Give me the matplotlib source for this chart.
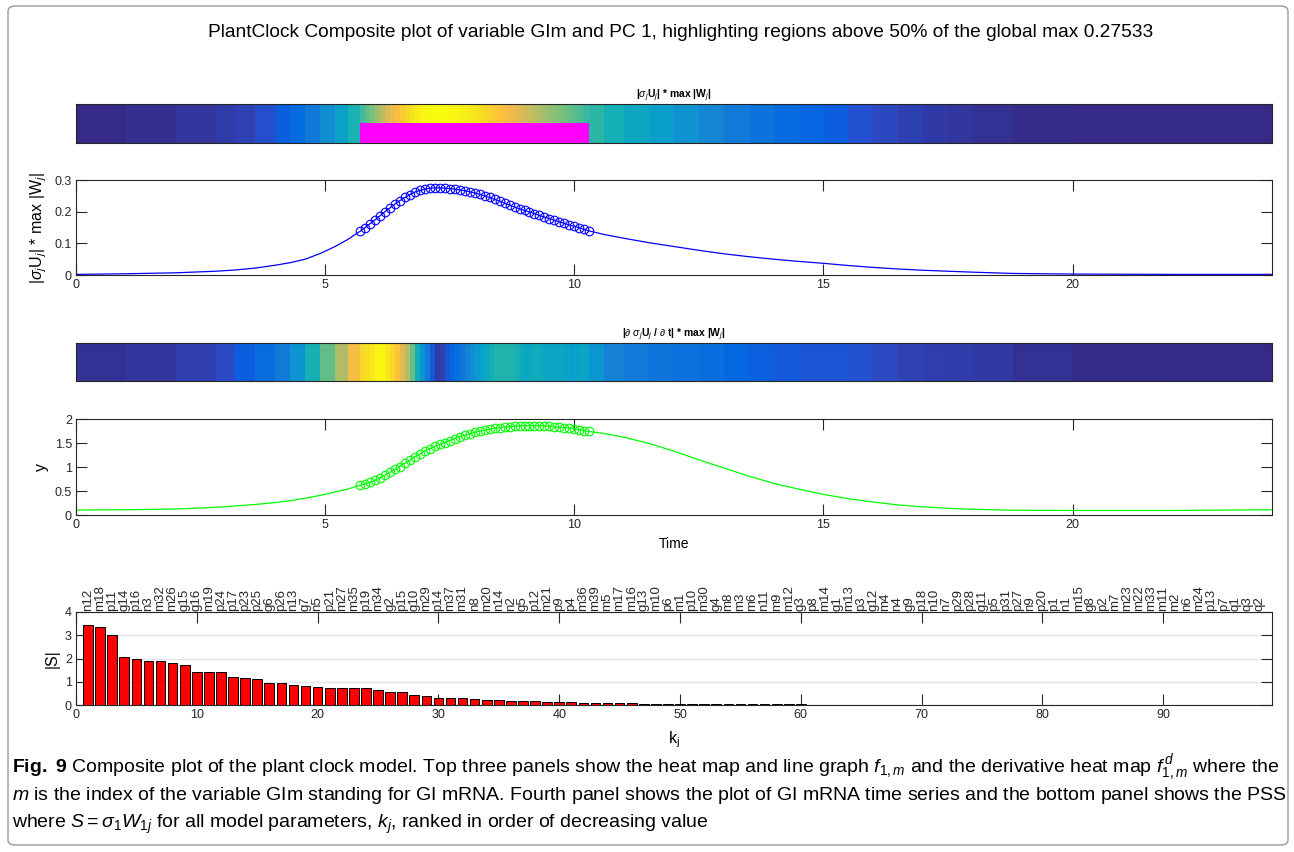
import numpy as np
import matplotlib.pyplot as plt
from matplotlib.colors import LinearSegmentedColormap
from matplotlib.patches import FancyBboxPatch

# ODE sample times (dense where the dynamics are fast)
t = [0, 1, 2, 2.8, 3.2, 3.6, 4.0, 4.3, 4.6, 4.9, 5.2, 5.45,
     5.7, 5.8, 5.9, 6.0, 6.1, 6.2, 6.3, 6.4, 6.5, 6.6, 6.7, 6.8, 6.9,
     7.0, 7.1, 7.2, 7.3, 7.4, 7.5, 7.6, 7.7, 7.8, 7.9, 8.0, 8.1, 8.2,
     8.3, 8.4, 8.5, 8.6, 8.7, 8.8, 8.9, 9.0, 9.1, 9.2, 9.3, 9.4, 9.5,
     9.6, 9.7, 9.8, 9.9, 10.0, 10.1, 10.2, 10.3,
     10.6, 11.0, 11.5, 12.0, 12.5, 13.0, 13.5, 14.0, 14.5, 15.0, 15.5,
     16.0, 16.5, 17.0, 17.5, 18.0, 18.8, 20.0, 22.0, 24.0]

# |sigma_j U_j| * max|W_j|  for GIm
f1m = [0.002, 0.004, 0.007, 0.012, 0.016, 0.022, 0.031, 0.039, 0.050, 0.068, 0.090, 0.112,
       0.138, 0.150, 0.162, 0.174, 0.187, 0.200, 0.212, 0.224, 0.235, 0.245, 0.254, 0.262, 0.267,
       0.271, 0.274, 0.27533, 0.2750, 0.2742, 0.273, 0.271, 0.2688, 0.2662, 0.263, 0.259, 0.255, 0.250,
       0.245, 0.239, 0.233, 0.227, 0.221, 0.215, 0.209, 0.204, 0.199, 0.194, 0.188, 0.183, 0.178,
       0.173, 0.168, 0.163, 0.158, 0.154, 0.149, 0.144, 0.139,
       0.128, 0.116, 0.102, 0.090, 0.078, 0.067, 0.058, 0.050, 0.043, 0.037, 0.030,
       0.024, 0.019, 0.015, 0.012, 0.009, 0.005, 0.003, 0.002, 0.002]

# GI mRNA time series
gim = [0.105, 0.11, 0.125, 0.16, 0.19, 0.22, 0.26, 0.30, 0.35, 0.41, 0.48, 0.54,
       0.62, 0.65, 0.68, 0.72, 0.77, 0.83, 0.89, 0.95, 1.01, 1.08, 1.14, 1.21, 1.27,
       1.33, 1.38, 1.43, 1.47, 1.51, 1.55, 1.59, 1.63, 1.66, 1.69, 1.72, 1.75, 1.77,
       1.79, 1.81, 1.82, 1.83, 1.84, 1.85, 1.855, 1.86, 1.86, 1.86, 1.86, 1.855, 1.85,
       1.84, 1.83, 1.82, 1.81, 1.80, 1.78, 1.76, 1.74,
       1.70, 1.62, 1.49, 1.33, 1.15, 0.98, 0.81, 0.66, 0.54, 0.43, 0.34,
       0.27, 0.21, 0.17, 0.14, 0.12, 0.10, 0.095, 0.095, 0.11]

# parameter sensitivities, ranked
params = ['n12', 'm18', 'p11', 'g14', 'p16', 'n3', 'm32', 'm26', 'g15', 'g16',
          'm19', 'p24', 'p17', 'p23', 'p25', 'g6', 'p26', 'n13', 'g7', 'n5',
          'p21', 'm27', 'm35', 'p19', 'm34', 'g2', 'p15', 'g10', 'm29', 'p14',
          'm37', 'm31', 'n8', 'm20', 'n14', 'n2', 'g5', 'p12', 'm21', 'p9',
          'p4', 'm36', 'm39', 'm5', 'm17', 'm16', 'g13', 'm10', 'p6', 'm1',
          'p10', 'm30', 'g4', 'm8', 'm3', 'm6', 'n11', 'm9', 'm12', 'g3',
          'p8', 'm14', 'g1', 'm13', 'p3', 'g12', 'm4', 'n4', 'g9', 'p18',
          'n10', 'n7', 'p29', 'p28', 'g11', 'p5', 'p31', 'p27', 'n9', 'p20',
          'p1', 'n1', 'm15', 'g8', 'p2', 'm7', 'm23', 'm22', 'm33', 'm11',
          'm2', 'n6', 'm24', 'p13', 'p7', 'q1', 'q3', 'q2']
pss = [3.46, 3.34, 2.99, 2.06, 2.00, 1.91, 1.88, 1.81, 1.72, 1.41,
       1.40, 1.40, 1.22, 1.16, 1.13, 0.96, 0.94, 0.88, 0.81, 0.77,
       0.75, 0.74, 0.74, 0.73, 0.63, 0.56, 0.56, 0.41, 0.38, 0.32,
       0.31, 0.30, 0.24, 0.21, 0.20, 0.19, 0.18, 0.16, 0.15, 0.13,
       0.11, 0.10, 0.09, 0.085, 0.075, 0.07, 0.065, 0.06, 0.058, 0.055,
       0.05, 0.046, 0.042, 0.04, 0.037, 0.034, 0.031, 0.029, 0.027, 0.025,
       0.022, 0.02, 0.018, 0.017, 0.016, 0.015, 0.014, 0.013, 0.012, 0.011,
       0.010, 0.009, 0.009, 0.008, 0.007, 0.007, 0.006, 0.006, 0.005, 0.005,
       0.004, 0.004, 0.003, 0.003, 0.003, 0.002, 0.002, 0.002, 0.002, 0.001,
       0.001, 0.001, 0.001, 0.001, 0.0005, 0.0005, 0.0003, 0.0002]

t = np.array(t)
f1m = np.array(f1m)
gim = np.array(gim)
hi = f1m >= 0.5 * f1m.max()
df1m = np.abs(np.gradient(f1m, t))

# parula-like colormap
parula = LinearSegmentedColormap.from_list('parula', [
    (0.000, (0.2081, 0.1663, 0.5292)), (0.079, (0.1707, 0.2919, 0.7792)),
    (0.111, (0.0591, 0.3598, 0.8683)), (0.143, (0.0060, 0.4086, 0.8828)),
    (0.238, (0.0779, 0.5040, 0.8384)), (0.286, (0.0641, 0.5570, 0.8240)),
    (0.333, (0.0265, 0.6137, 0.8135)), (0.429, (0.0590, 0.6838, 0.7254)),
    (0.508, (0.2178, 0.7250, 0.6193)), (0.587, (0.4420, 0.7481, 0.5033)),
    (0.667, (0.6473, 0.7456, 0.4188)), (0.762, (0.8824, 0.7274, 0.3217)),
    (0.841, (0.9938, 0.7455, 0.2403)), (0.921, (0.9626, 0.8705, 0.1309)),
    (1.000, (0.9763, 0.9831, 0.0538))])

plt.rcParams['font.family'] = ['Liberation Sans', 'DejaVu Sans']
plt.rcParams['mathtext.fontset'] = 'custom'
plt.rcParams['mathtext.rm'] = 'Liberation Sans'
plt.rcParams['mathtext.it'] = 'Liberation Sans:italic'
plt.rcParams['mathtext.bf'] = 'Liberation Sans:bold'

fig = plt.figure(figsize=(12.94, 8.52), dpi=100)
fig.patches.append(FancyBboxPatch((8 / 1294, 7 / 852), 1280 / 1294, 839 / 852,
                                  boxstyle='round,pad=0,rounding_size=0.006',
                                  transform=fig.transFigure, fill=False,
                                  ec='#9a9a9a', lw=1))

L, W = 76 / 1294, 1196 / 1294
dark = '#262626'

fig.text(0.526, 0.9624, 'PlantClock Composite plot of variable GIm and PC 1, '
         'highlighting regions above 50% of the global max 0.27533',
         ha='center', va='center', fontsize=13.8)


def heat(rect, vals, label, ul):
    ax = fig.add_axes(rect)
    ax.pcolormesh(t, [0, 1], ((vals[:-1] + vals[1:]) / 2)[None, :],
                  cmap=parula, vmin=vals.min(), vmax=vals.max(), shading='flat')
    ax.set_xlim(0, 24)
    ax.set_ylim(0, 1)
    ax.set_xticks([])
    ax.set_yticks([])
    for s in ax.spines.values():
        s.set_color(dark)
    ax.set_title(label, fontsize=7.5, fontweight='bold', pad=2)
    ax.plot(ul, [1, 1], transform=ax.transAxes, color='white', lw=1.5, clip_on=False)
    return ax


def style(ax):
    ax.tick_params(direction='in', length=8, top=True, right=True,
                   labelsize=9, color=dark, labelcolor=dark, pad=3)
    for s in ax.spines.values():
        s.set_color(dark)


# heat map of f_{1,m}
ax1 = heat([L, 0.8322, W, 0.0458], f1m,
           r'|$\sigma_j$U$_j$| * max |W$_j$|', [0.468, 0.532])
ax1.fill_between([t[hi][0], t[hi][-1]], 0, 0.5, color='magenta', lw=0)

# line graph f_{1,m}
ax2 = fig.add_axes([L, 0.6772, W, 0.1115])
ax2.plot(t, f1m, color='blue', lw=0.9)
ax2.plot(t[hi], f1m[hi], 'o', mfc='none', mec='blue', ms=6.2, mew=0.8)
ax2.set_xlim(0, 24)
ax2.set_ylim(0, 0.3)
ax2.set_xticks([0, 5, 10, 15, 20])
ax2.set_yticks([0, 0.1, 0.2, 0.3], ['0', '0.1', '0.2', '0.3'])
ax2.set_ylabel(r'|$\sigma_j$U$_j$| * max |W$_j$|', fontsize=11.5, labelpad=4)
style(ax2)

# derivative heat map
ax3 = heat([L, 0.5528, W, 0.0446], df1m,
           r'|$\partial$ $\sigma_j$U$_j$ / $\partial$ t| * max |W$_j$|', [0.457, 0.543])

# GI mRNA time series
ax4 = fig.add_axes([L, 0.3955, W, 0.1127])
ax4.plot(t, gim, color='#00ff00', lw=0.9)
ax4.plot(t[hi], gim[hi], 'o', mfc='none', mec='#00ff00', ms=6.2, mew=0.8)
ax4.set_xlim(0, 24)
ax4.set_ylim(0, 2)
ax4.set_xticks([0, 5, 10, 15, 20])
ax4.set_yticks([0, 0.5, 1, 1.5, 2], ['0', '0.5', '1', '1.5', '2'])
ax4.set_ylabel('y', fontsize=11.5)
ax4.set_xlabel('Time', fontsize=10, labelpad=4)
style(ax4)

# PSS bar chart
k = np.arange(1, len(pss) + 1)
ax5 = fig.add_axes([L, 0.1725, W, 0.1092])
ax5.bar(k, pss, width=0.8, color='red', edgecolor='black', lw=0.7)
ax5.set_xlim(0, 99)
ax5.set_ylim(0, 4)
ax5.set_xticks(range(0, 100, 10))
ax5.set_yticks([0, 1, 2, 3, 4])
ax5.yaxis.grid(True, color='#e3e3e3', lw=1)
ax5.set_axisbelow(True)
ax5.set_ylabel('|S|', fontsize=11.5)
ax5.set_xlabel(r'k$_\mathregular{j}$', fontsize=11.5, labelpad=6)
style(ax5)
ax5.tick_params(labeltop=False)
sec = ax5.secondary_xaxis('top')
sec.set_xticks(k, params, rotation=90, fontsize=9.5)
sec.tick_params(length=0, pad=1, labelcolor=dark)
sec.spines['top'].set_visible(False)

# caption
cap = [r'$\mathbf{Fig.\ 9}$ Composite plot of the plant clock model. Top three panels show the heat map '
       r'and line graph $\mathit{f}_{1,m}$ and the derivative heat map $\mathit{f}^{\,d}_{1,m}$ where the',
       r'$\mathit{m}$ is the index of the variable GIm standing for GI mRNA. Fourth panel shows the plot of '
       r'GI mRNA time series and the bottom panel shows the PSS',
       r'where $S = \sigma_1 W_{1j}$ for all model parameters, $k_j$, ranked in order of decreasing value']
for i, line in enumerate(cap):
    fig.text(12 / 1294, 1 - (768 + 28 * i) / 852, line, ha='left', va='center', fontsize=14)

fig.savefig('out.png', dpi=100)
